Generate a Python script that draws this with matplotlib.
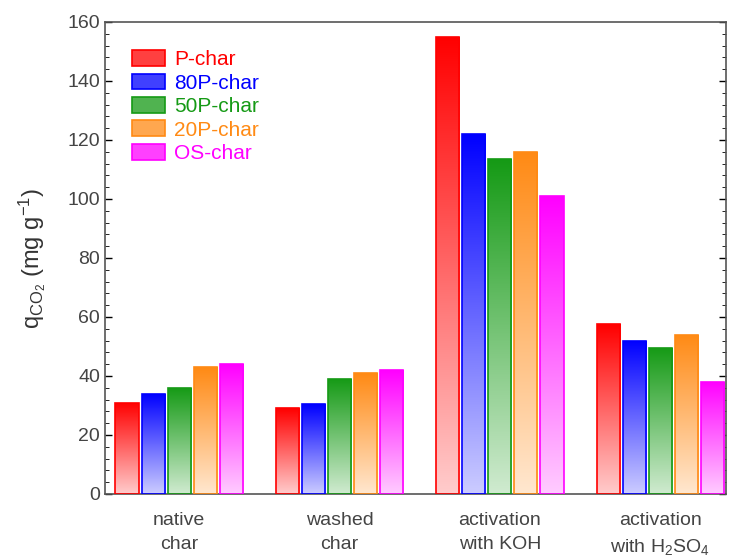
"""
CO2 uptake of the chars: native, washed and chemically activated
"""
import matplotlib.pyplot as plt
import numpy as np
from matplotlib.colors import to_rgb
from matplotlib.ticker import MultipleLocator

groups = ['native\nchar', 'washed\nchar', 'activation\nwith KOH', 'activation\nwith H$_2$SO$_4$']
series = ['P-char', '80P-char', '50P-char', '20P-char', 'OS-char']
colors = ['#ff0000', '#0000ff', '#159a15', '#ff8a14', '#ff00ff']

p_char = [31, 29, 155, 57.5]
p80_char = [34, 30.5, 122, 52]
p50_char = [36, 39, 113.5, 49.5]
p20_char = [43, 41, 116, 54]
os_char = [44, 42, 101, 38]
values = [p_char, p80_char, p50_char, p20_char, os_char]

plt.rcParams['font.family'] = ['Liberation Sans', 'DejaVu Sans']
plt.rcParams['mathtext.fontset'] = 'custom'
plt.rcParams['mathtext.rm'] = 'Liberation Sans'
plt.rcParams['mathtext.it'] = 'Liberation Sans'

fig = plt.figure(figsize=(7.3, 5.58), dpi=100)
ax = fig.add_axes([0.1438, 0.1147, 0.8507, 0.8459])

x = np.arange(len(groups))
width = 0.144
step = 0.1625


def gradient_bar(ax, bar, color):
    # fill a bar with colour at the top fading towards white at the base
    r, g, b = to_rgb(color)
    t = np.linspace(0, 1, 256)[:, None]
    mix = 0.2 + 0.8 * t  # 0 = bottom, 1 = top
    img = np.zeros((256, 1, 3))
    img[..., 0] = 1 - mix * (1 - r)
    img[..., 1] = 1 - mix * (1 - g)
    img[..., 2] = 1 - mix * (1 - b)
    x0, y0 = bar.get_x(), bar.get_y()
    w, h = bar.get_width(), bar.get_height()
    im = ax.imshow(img, extent=[x0, x0 + w, y0, y0 + h], origin='lower',
                   aspect='auto', zorder=2, interpolation='bilinear')
    im.set_clip_path(bar)


for i, (name, vals, c) in enumerate(zip(series, values, colors)):
    pos = x + (i - 2) * step
    bars = ax.bar(pos, vals, width, facecolor='none', edgecolor=c,
                  linewidth=1.2, zorder=3, label=name)
    for bar in bars:
        gradient_bar(ax, bar, c)

ax.set_xlim(-0.4625, 3.41)
ax.set_ylim(0, 160)
ax.set_xticks(x)
ax.set_xticklabels(groups, fontsize=14, color='#444444', linespacing=1.55)
ax.tick_params(axis='x', length=0, pad=13)
ax.yaxis.set_major_locator(MultipleLocator(20))
ax.yaxis.set_minor_locator(MultipleLocator(4))
ax.tick_params(axis='y', which='major', direction='in', length=5, labelsize=14,
               labelcolor='#444444', right=True, width=1)
ax.tick_params(axis='y', which='minor', direction='in', length=3, right=True)
for s in ax.spines.values():
    s.set_color('#555555')
    s.set_linewidth(1.2)
ax.set_ylabel('q$_{\\mathrm{CO_2}}$ (mg g$^{-1}$)', fontsize=17, color='#333333', labelpad=14)

# legend: pale boxes with coloured text
leg = ax.legend(loc='upper left', bbox_to_anchor=(0.014, 0.98), frameon=False,
                fontsize=15, handlelength=1.55, handleheight=0.8,
                handletextpad=0.45, labelspacing=0.2)
for txt, c in zip(leg.get_texts(), colors):
    txt.set_color(c)
for h, c in zip(leg.legend_handles, colors):
    r, g, b = to_rgb(c)
    h.set_facecolor((1 - 0.75 * (1 - r), 1 - 0.75 * (1 - g), 1 - 0.75 * (1 - b)))
    h.set_edgecolor(c)

fig.savefig('out.png', dpi=100)
